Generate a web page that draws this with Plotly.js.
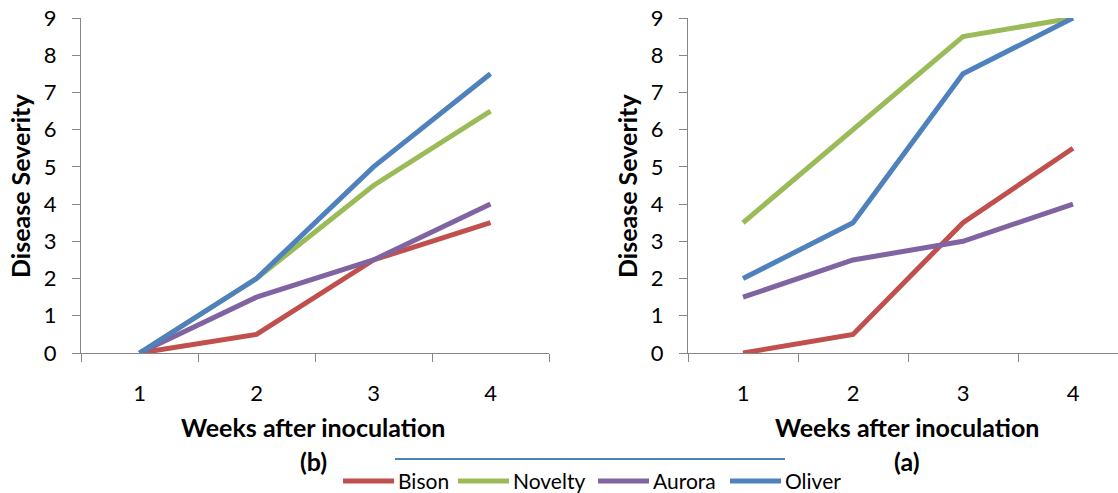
<!DOCTYPE html>
<html>
<head>
<meta charset="utf-8">
<script src="https://cdn.plot.ly/plotly-3.0.1.min.js"></script>
<style>html,body{margin:0;padding:0;background:#fff;}#chart{width:1118px;height:493px;}</style>
</head>
<body>
<div id="chart"></div>
<script>
const weeks = [1, 2, 3, 4];
const seriesNames = ["Bison", "Novelty", "Aurora", "Oliver"];
const colors = ["#C0504D", "#9BBB59", "#8064A2", "#4F81BD"];
// Panel (b) - left
const bisonB = [0, 0.5, 2.5, 3.5];
const noveltyB = [0, 2, 4.5, 6.5];
const auroraB = [0, 1.5, 2.5, 4];
const oliverB = [0, 2, 5, 7.5];
// Panel (a) - right
const bisonA = [0, 0.5, 3.5, 5.5];
const noveltyA = [3.5, 6, 8.5, 9];
const auroraA = [1.5, 2.5, 3, 4];
const oliverA = [2, 3.5, 7.5, 9];
const yTicks = [0, 1, 2, 3, 4, 5, 6, 7, 8, 9];

const seriesB = [bisonB, noveltyB, auroraB, oliverB];
const seriesA = [bisonA, noveltyA, auroraA, oliverA];

const FONT = "Lato, 'Open Sans', sans-serif";
const traces = [];
seriesB.forEach((ys, i) => traces.push({
  x: weeks, y: ys, name: seriesNames[i], type: "scatter", mode: "lines",
  line: {color: colors[i], width: 5}, xaxis: "x", yaxis: "y", showlegend: false
}));
seriesA.forEach((ys, i) => traces.push({
  x: weeks, y: ys, name: seriesNames[i], type: "scatter", mode: "lines",
  line: {color: colors[i], width: 5}, xaxis: "x2", yaxis: "y2", showlegend: false
}));

const W = 1118, H = 493;
const yBottom = (H - 353) / H, yTop = (H - 18) / H;
const axisGray = "#868686";
const TICK = 22, TITLE = 25, LEG = 21;

function xAxis(domain, range, anchor) {
  return {
    domain: domain, range: range, anchor: anchor,
    tickvals: weeks, ticktext: weeks.map(String),
    ticks: "", showgrid: false, zeroline: false,
    showline: true, linecolor: axisGray, linewidth: 1,
    tickfont: {family: FONT, size: TICK, color: "#000"},
    ticklabelstandoff: 21,
    minor: {tick0: 0.5, dtick: 1, ticks: "outside", ticklen: 8, tickcolor: axisGray, tickwidth: 1, showgrid: false},
    fixedrange: true
  };
}
function yAxis(anchor) {
  return {
    domain: [yBottom, yTop], range: [0, 9], anchor: anchor,
    tickvals: yTicks, ticks: "outside", ticklen: 8, tickcolor: axisGray,
    showgrid: false, zeroline: false, showline: true, linecolor: axisGray, linewidth: 1,
    tickfont: {family: FONT, size: TICK, color: "#000"},
    ticklabelstandoff: 11, fixedrange: true
  };
}
function ann(text, x, y, angle, size, xanchor) {
  return {text: text, textangle: angle || 0, x: x / W, y: (H - y) / H, xref: "paper", yref: "paper",
    xanchor: xanchor || "center", yanchor: "middle", showarrow: false, borderpad: 0,
    font: {family: FONT, size: size || TITLE, color: "#000"}};
}

const annotations = [
  ann("<b>Disease Severity</b>", 20, 186, -90),
  ann("<b>Disease Severity</b>", 627, 186, -90),
  ann("<b>Weeks after inoculation</b>", 313, 427),
  ann("<b>Weeks after inoculation</b>", 907, 427),
  ann("<b>(b)</b>", 313, 461),
  ann("<b>(a)</b>", 907, 461)
];
const shapes = [
  {type: "line", xref: "paper", yref: "paper", x0: 395 / W, x1: 785 / W, y0: (H - 459) / H, y1: (H - 459) / H, line: {color: "#4F81BD", width: 2}}
];
// Legend (lines + labels) drawn below the panels
const legendLineStart = [343, 458, 598, 730];
const legendY = 480;
seriesNames.forEach((name, i) => {
  const x0 = legendLineStart[i];
  shapes.push({type: "line", xref: "paper", yref: "paper", x0: x0 / W, x1: (x0 + 51) / W,
    y0: (H - legendY - 1) / H, y1: (H - legendY - 1) / H, line: {color: colors[i], width: 5}});
  annotations.push(ann(name, x0 + 54, legendY, 0, LEG, "left"));
});

const layout = {
  width: W, height: H,
  margin: {l: 0, r: 0, t: 0, b: 0},
  paper_bgcolor: "#fff", plot_bgcolor: "#fff",
  xaxis: xAxis([81 / W, 549 / W], [0.5, 4.5], "y"),
  yaxis: yAxis("x"),
  xaxis2: xAxis([688 / W, 1], [0.5, 0.5 + (1118 - 688) / 110], "y2"),
  yaxis2: yAxis("x2"),
  showlegend: false,
  annotations: annotations,
  shapes: shapes
};

Plotly.newPlot("chart", traces, layout, {displayModeBar: false, staticPlot: true});
</script>
</body>
</html>
